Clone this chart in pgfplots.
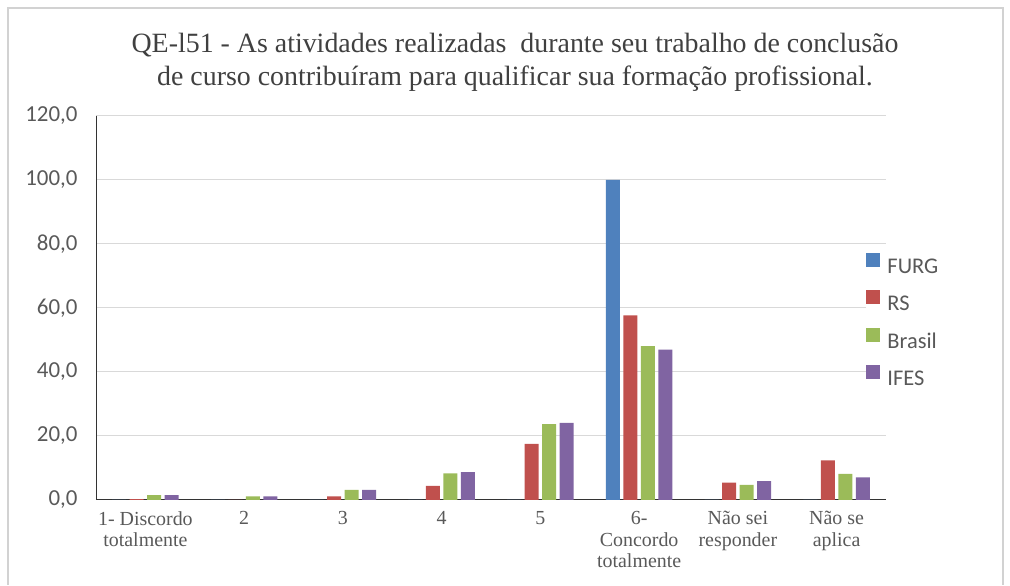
\documentclass[border=0pt]{standalone}
\usepackage{pgfplots}
\pgfplotsset{compat=1.18}
\usepackage{fontspec}
\setmainfont{Liberation Serif}
\newfontfamily\carlito{Carlito}
\definecolor{furg}{HTML}{4F81BD}
\definecolor{rs}{HTML}{C0504D}
\definecolor{brasil}{HTML}{9BBB59}
\definecolor{ifes}{HTML}{8064A2}
\definecolor{txt}{HTML}{595959}
\definecolor{ttl}{HTML}{404040}
\definecolor{gridc}{HTML}{D9D9D9}
\begin{document}
\begin{tikzpicture}[x=1bp,y=1bp]
\path (0,0) rectangle (1010,585);
\draw[gray!35, line width=1.5bp] (8,0) -- (8,577) -- (1003,577) -- (1003,0);
\node[align=center, text=ttl, font=\fontsize{28}{33}\selectfont] at (515,523) {QE-l51 - As atividades realizadas \ durante seu trabalho de conclusão\\ de curso contribuíram para qualificar sua formação profissional.};
\begin{axis}[
  at={(96bp,85bp)}, anchor=south west,
  scale only axis, width=790bp, height=384bp,
  ymin=0, ymax=120, ytick={0,20,...,120},
  xmin=-0.5, xmax=7.5,
  xtick=data,
  xticklabels={{1- Discordo\\totalmente},2,3,4,5,{6-\\Concordo\\totalmente},{Não sei\\responder},{Não se\\aplica}},
  ybar=3.5bp, bar width=14bp,
  axis x line*=bottom, axis y line*=left,
  axis line style={black!80, line width=1bp},
  major tick length=0pt,
  ymajorgrids, grid style={gridc, line width=1bp},
  yticklabel style={font=\carlito\fontsize{23}{23}\selectfont, text=txt, anchor=east, xshift=-15bp},
  xticklabel style={font=\fontsize{20}{21.5}\selectfont, text=txt, align=center, anchor=north, yshift=-8bp},
  /pgf/number format/.cd, fixed, fixed zerofill, precision=1, use comma, assume math mode=true,
  /pgfplots/.cd,
  legend style={at={(rel axis cs:0.975,0.645)}, anchor=north west, draw=none, fill=white, inner sep=0pt,
    font=\carlito\fontsize{22.5}{22.5}\selectfont, text=txt, row sep=13bp,
    nodes={inner sep=2bp, text height=15bp, text depth=2bp},
    /tikz/every odd column/.append style={column sep=5bp}},
  legend cell align=left,
  legend image code/.code={\fill[#1] (0bp,0bp) rectangle (14bp,14bp);},
  every axis plot/.append style={draw=none},
]
\addplot[fill=furg] coordinates {(0,0) (1,0) (2,0) (3,0) (4,0) (5,100) (6,0) (7,0)};
\addplot[fill=rs] coordinates {(0,0.3) (1,0) (2,1.1) (3,4.4) (4,17.5) (5,57.7) (6,5.4) (7,12.4)};
\addplot[fill=brasil] coordinates {(0,1.5) (1,1.1) (2,3.2) (3,8.3) (4,23.7) (5,48.1) (6,4.7) (7,8.2)};
\addplot[fill=ifes] coordinates {(0,1.5) (1,1.1) (2,3.2) (3,8.7) (4,24.1) (5,47.0) (6,5.9) (7,7.1)};
\legend{FURG,RS,Brasil,IFES}
\end{axis}
\end{tikzpicture}
\end{document}
